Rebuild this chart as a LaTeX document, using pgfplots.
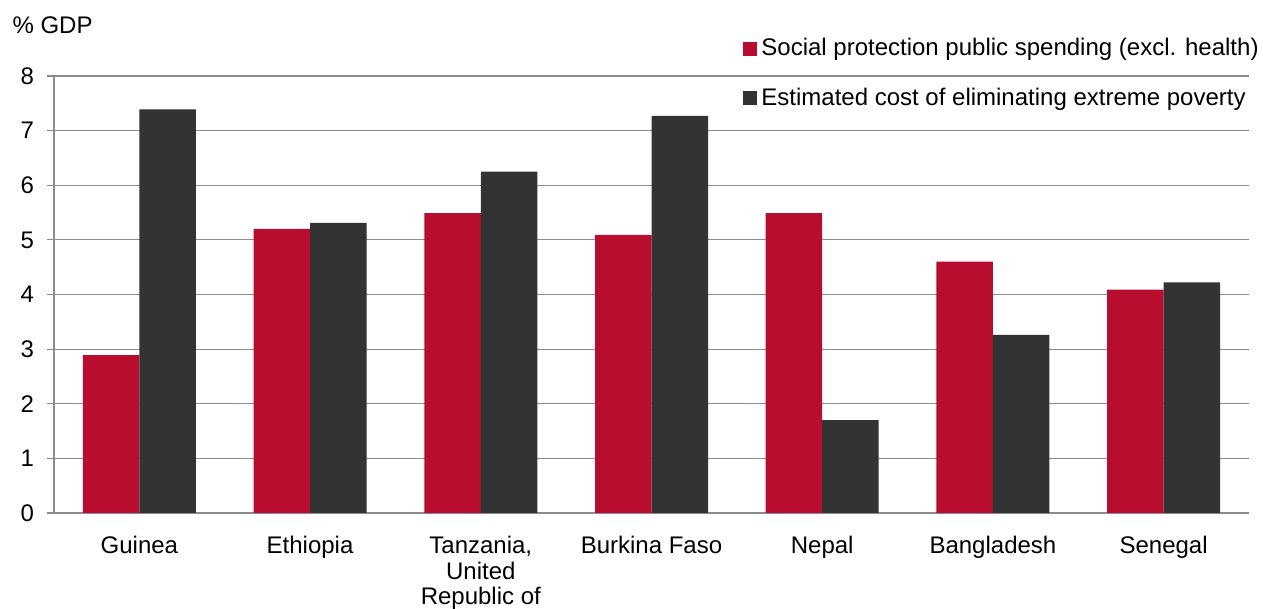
\documentclass[border=0pt]{standalone}
\usepackage{fontspec}
\setmainfont{Liberation Sans}
\usepackage{pgfplots}
\pgfplotsset{compat=1.18}
\definecolor{barred}{RGB}{184,13,47}
\definecolor{bardark}{RGB}{51,51,51}
\definecolor{gridgray}{RGB}{140,140,140}
\begin{document}
\begin{tikzpicture}
\path[use as bounding box] (0,0) rectangle (631.5pt,304.5pt);
\begin{axis}[
  at={(27pt,48pt)}, anchor=south west,
  scale only axis, width=597.5pt, height=218.5pt,
  clip=false,
  xmin=-0.5, xmax=6.5, ymin=0, ymax=8,
  ybar=0pt, bar width=28.25pt,
  axis x line*=bottom, axis y line*=left,
  axis line style={gridgray, line width=0.6pt},
  tick style={gridgray, line width=0.6pt},
  tick align=outside,
  ytick={0,1,...,8},
  major tick length=3.5pt,
  xtick={0,...,6},
  xticklabels={Guinea,Ethiopia,{Tanzania,\\United\\Republic of},Burkina Faso,Nepal,Bangladesh,Senegal},
  xtick style={draw=none},
  minor xtick={-0.5,0.5,...,6.5},
  minor x tick style={gridgray, line width=0.6pt},
  minor tick length=3.5pt,
  ymajorgrids, grid style={gridgray, line width=0.6pt},
  /pgf/number format/assume math mode=true,
  ticklabel style={font=\fontsize{12}{12.8}\selectfont},
  xticklabel style={align=center, yshift=-4.5pt},
  yticklabel style={xshift=-3pt},
  legend style={draw=none, fill=none, at={(axis description cs:0.5766,1.096)}, anchor=north west,
    font=\fontsize{12}{13}\selectfont, row sep=10.5pt, inner sep=0pt},
  legend cell align=left,
  legend image code/.code={\fill[#1, draw=none] (0pt,-3.5pt) rectangle (7pt,3.5pt);},
]
\addplot[fill=barred, draw=none] coordinates {(0,2.89) (1,5.2) (2,5.49) (3,5.09) (4,5.49) (5,4.6) (6,4.09)};
\addplot[fill=bardark, draw=none] coordinates {(0,7.39) (1,5.31) (2,6.25) (3,7.27) (4,1.70) (5,3.26) (6,4.22)};
\legend{Social protection public spending (excl. health),Estimated cost of eliminating extreme poverty}
\node[anchor=west, font=\fontsize{12}{13}\selectfont, inner sep=0pt] at (axis description cs:-0.035,1.117) {\% GDP};
\end{axis}
\end{tikzpicture}
\end{document}
